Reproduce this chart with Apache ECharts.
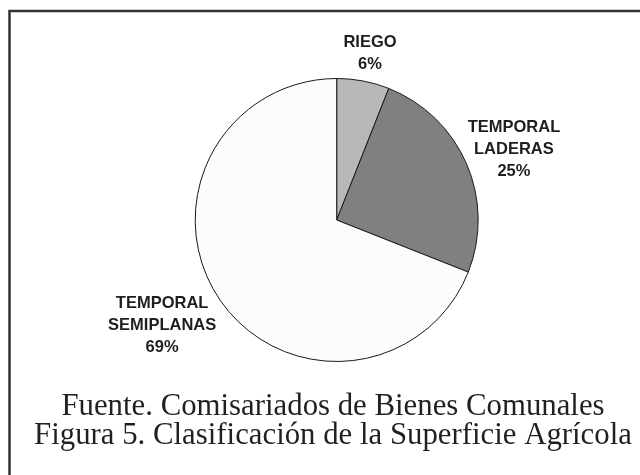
<!DOCTYPE html>
<html>
<head>
<meta charset="utf-8">
<script src="https://cdn.jsdelivr.net/npm/echarts@6/dist/echarts.min.js"></script>
<style>html,body{margin:0;padding:0;background:#fff}#c{width:640px;height:475px}</style>
</head>
<body>
<div id="c"></div>
<script>
const categories = ['RIEGO', 'TEMPORAL\nLADERAS', 'TEMPORAL\nSEMIPLANAS'];
const values = [6, 25, 69];
const captionLines = ['Fuente. Comisariados de Bienes Comunales', 'Figura 5. Clasificación de la Superficie Agrícola'];

const sliceColors = ['#b8b8b8', '#808080', '#fcfcfc'];
const labelOffsets = [[-2, -8], [24, -6], [-36, 15]];

const chart = echarts.init(document.getElementById('c'), null, {renderer: 'canvas'});
chart.setOption({
  backgroundColor: '#ffffff',
  animation: false,
  title: {
    text: captionLines.join('\n'),
    left: 328,
    top: 387,
    textAlign: 'center',
    textStyle: {
      fontFamily: '"Liberation Serif", "Times New Roman", serif',
      fontSize: 30.8,
      fontWeight: 'normal',
      lineHeight: 29,
      color: '#231f20'
    }
  },
  graphic: [{
    type: 'rect',
    shape: {x: 9.5, y: 11, width: 700, height: 600},
    style: {fill: 'none', stroke: '#333333', lineWidth: 2.5},
    silent: true
  }],
  series: [{
    type: 'pie',
    center: [336.7, 220],
    radius: [0, 141.5],
    startAngle: 90,
    clockwise: true,
    avoidLabelOverlap: false,
    data: categories.map((c, i) => ({name: c, value: values[i], itemStyle: {color: sliceColors[i]}})),
    itemStyle: {borderColor: '#1a1a1a', borderWidth: 1},
    label: {
      show: true,
      position: 'outside',
      formatter: '{b}\n{d}%',
      fontFamily: '"Liberation Sans", Arial, sans-serif',
      fontWeight: 'bold',
      fontSize: 16.5,
      lineHeight: 22,
      color: '#1e1e1e',
      distanceToLabelLine: 5
    },
    labelLine: {show: false, length: 20, length2: 0},
    labelLayout: function (p) {
      const o = labelOffsets[p.dataIndex];
      return {align: 'center', verticalAlign: 'middle', dx: o[0], dy: o[1]};
    },
    emphasis: {disabled: true}
  }]
});
</script>
</body>
</html>
